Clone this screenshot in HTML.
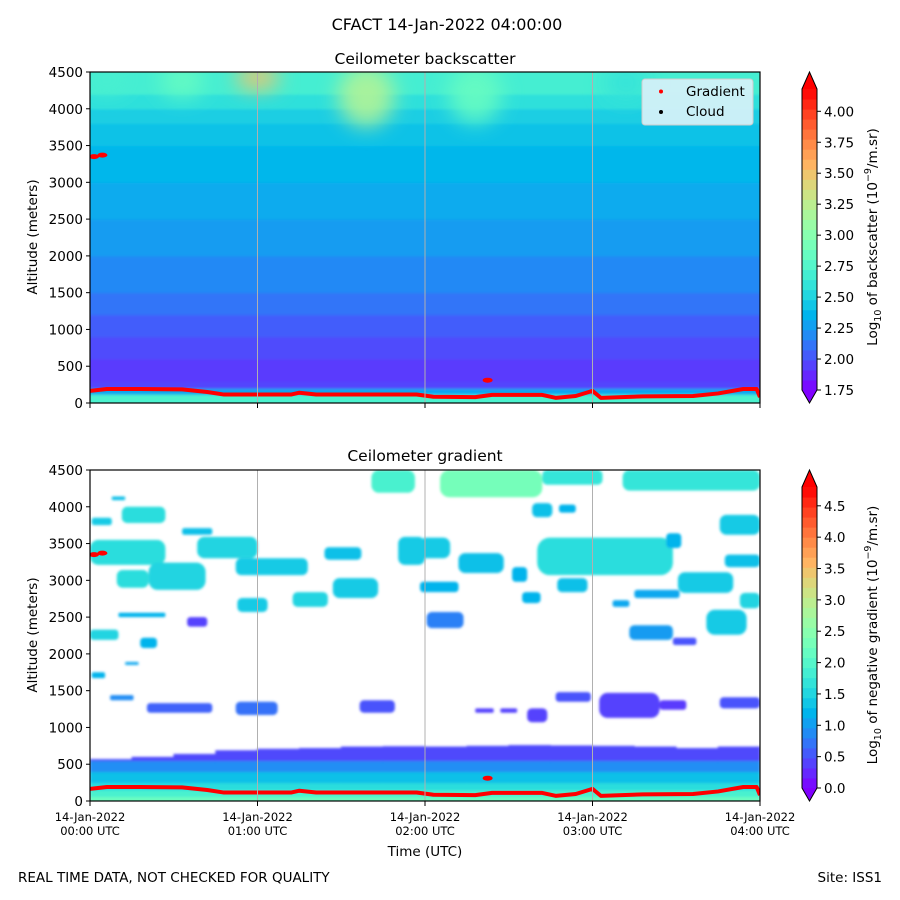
<!DOCTYPE html>
<html><head><meta charset="utf-8">
<style>
html,body{margin:0;padding:0;background:#fff;}
svg{display:block;font-family:"DejaVu Sans","Liberation Sans",sans-serif;}
</style></head>
<body>
<svg id="fig" width="900" height="900" viewBox="0 0 900 900" xmlns="http://www.w3.org/2000/svg">
<defs>
<filter id="blur1" x="-50%" y="-50%" width="200%" height="200%"><feGaussianBlur stdDeviation="10"/></filter>
<filter id="blur2" x="-20%" y="-20%" width="140%" height="140%"><feGaussianBlur stdDeviation="1.2"/></filter>
<clipPath id="clipTop"><rect x="90" y="72" width="670" height="331"/></clipPath>
<clipPath id="clipBot"><rect x="90" y="470" width="670" height="331"/></clipPath>
</defs>
<text x="447" y="30" font-size="16" text-anchor="middle">CFACT 14-Jan-2022 04:00:00</text>
<text x="425" y="64" font-size="15.5" text-anchor="middle">Ceilometer backscatter</text>
<text x="425" y="461" font-size="15.5" text-anchor="middle">Ceilometer gradient</text>
<g id="top"></g>
<g id="bot"></g>
<text x="425" y="856" font-size="13.5" text-anchor="middle">Time (UTC)</text>
<text x="18" y="882" font-size="13.5">REAL TIME DATA, NOT CHECKED FOR QUALITY</text>
<text x="882" y="882" font-size="13.5" text-anchor="end">Site: ISS1</text>
</svg>
<script>
// ---------- data ----------
const xTickLabels = ["00:00 UTC","01:00 UTC","02:00 UTC","03:00 UTC","04:00 UTC"];
const xTickHours = [0,1,2,3,4];
const yTicks = [0,500,1000,1500,2000,2500,3000,3500,4000,4500];
const bsTicks = [1.75,2.00,2.25,2.50,2.75,3.00,3.25,3.50,3.75,4.00];
const grTicks = [0.0,0.5,1.0,1.5,2.0,2.5,3.0,3.5,4.0,4.5];
// backscatter layered profile
const bsAltEdges = [0,120,200,300,600,900,1200,1500,2000,2500,3000,3500,3800,4000,4200,4500];
const bsProfile = [2.72,2.3,1.96,1.93,1.98,2.04,2.12,2.19,2.26,2.32,2.37,2.42,2.48,2.58,2.68];
// upper plumes: [hour, altBottom, altTop, value]
const plumes = [[1.0,4250,4600,3.5],[0.55,4150,4600,2.85],[1.65,3750,4600,3.2],[2.3,3800,4600,2.85],[3.2,4100,4600,2.6],[0.1,4200,4600,2.7]];
// gradient red line
const gradT = [0,0.1,0.3,0.55,0.7,0.8,1.0,1.2,1.25,1.35,1.6,1.95,2.05,2.3,2.4,2.7,2.78,2.9,3.0,3.05,3.3,3.6,3.75,3.9,3.98,4.0];
const gradAlt = [165,190,190,185,150,115,115,115,140,115,115,115,85,80,110,110,70,95,165,70,90,95,130,190,190,80];
const extraT = [0,0.05,2.35];
const extraAlt = [3350,3370,310];
// gradient bottom band: top altitude per column (0.25h)
const bandTop = [570,600,640,690,710,720,740,745,740,750,760,755,750,740,720,740];
const bandEdges = [0,60,150,250,400,550];
const bandVals = [2.2,1.9,1.6,1.3,0.9,0.45];
// gradient blobs: [t0,t1,alt0,alt1,value]
const blobs = [
[0.13,0.21,4090,4140,1.3],[0.19,0.45,3780,4000,1.6],[0.01,0.13,3750,3850,1.4],[0,0.45,3210,3550,1.6],
[0.55,0.73,3620,3710,1.3],[0.64,1.0,3300,3590,1.5],[0.87,1.3,3070,3300,1.4],[0.16,0.35,2900,3140,1.6],
[0.35,0.69,2870,3240,1.5],[1.4,1.62,3280,3450,1.3],[1.84,2.0,3210,3590,1.4],[0.88,1.06,2570,2760,1.4],
[1.21,1.42,2640,2840,1.5],[1.45,1.72,2760,3030,1.4],[0,0.17,2190,2330,1.5],[0.3,0.4,2080,2220,1.2],
[0.01,0.09,1670,1750,1.2],[0.12,0.26,1370,1440,0.9],[0.34,0.73,1200,1330,0.6],[0.87,1.12,1170,1350,0.7],
[1.61,1.82,1200,1370,0.5],[0.58,0.7,2370,2500,0.4],[0.21,0.29,1850,1890,1.1],[0.17,0.45,2500,2560,1.2],
[1.68,1.94,4190,4500,1.9],[2.09,2.7,4130,4500,2.3],[2.7,3.06,4300,4500,1.7],[3.18,4.0,4220,4500,1.7],
[2.64,2.76,3860,4050,1.3],[2.8,2.9,3920,4030,1.2],[1.97,2.15,3300,3580,1.4],[2.2,2.47,3100,3370,1.3],
[2.52,2.61,2980,3180,1.2],[2.67,3.48,3070,3580,1.6],[3.76,4.0,3620,3890,1.4],[3.44,3.53,3440,3640,1.2],
[3.79,4.0,3180,3350,1.3],[1.97,2.2,2840,2980,1.2],[2.79,2.97,2840,3030,1.3],[3.51,3.84,2830,3110,1.4],
[3.25,3.52,2760,2870,1.1],[3.88,4.0,2620,2830,1.5],[3.68,3.92,2260,2600,1.4],[3.12,3.22,2640,2730,1.1],
[2.58,2.69,2690,2840,1.2],[2.01,2.23,2350,2570,0.8],[3.22,3.48,2190,2390,1.0],[3.48,3.62,2120,2220,0.5],
[2.78,2.99,1350,1480,0.5],[2.61,2.73,1070,1260,0.4],[2.3,2.41,1200,1260,0.4],[2.45,2.55,1200,1260,0.4],
[3.04,3.4,1130,1470,0.4],[3.4,3.56,1240,1370,0.35],[3.76,4.0,1260,1410,0.5]
];
// ---------- helpers ----------
const NS="http://www.w3.org/2000/svg";
function mk(tag,attrs,parent){const e=document.createElementNS(NS,tag);for(const k in attrs)e.setAttribute(k,attrs[k]);parent.appendChild(e);return e;}
function rainbow(x){x=Math.max(0,Math.min(1,x));const r=Math.min(1,Math.abs(2*x-0.5)),g=Math.sin(Math.PI*x),b=Math.cos(Math.PI*x/2);
 return `rgb(${Math.round(r*255)},${Math.round(g*255)},${Math.round(b*255)})`;}
const X0=90,X1=760;
const xs=t=>X0+t/4*(X1-X0);
function ysFor(top){return a=>top+331-a/4500*331;}
const bsMin=1.75,bsMax=4.18,grMin=0,grMax=4.8;
const bsCol=v=>rainbow((v-bsMin)/(bsMax-bsMin));
const grCol=v=>rainbow((v-grMin)/(grMax-grMin));

function axes(g,top,showLabels){
  const ys=ysFor(top);
  for(let i=1;i<4;i++){const l=mk('line',{x1:xs(xTickHours[i]),x2:xs(xTickHours[i]),y1:top,y2:top+331,stroke:'#b0b0b0','stroke-width':1},g);
    }
  const fr=mk('rect',{x:X0,y:top,width:X1-X0,height:331,fill:'none',stroke:'#000','stroke-width':1.2},g);
  
  yTicks.forEach(v=>{const y=ys(v);mk('line',{x1:X0-4,x2:X0,y1:y,y2:y,stroke:'#000'},g);
    const t=mk('text',{x:X0-7,y:y+5,'font-size':13.5,'text-anchor':'end'},g);t.textContent=v;
    });
  xTickHours.forEach((h,i)=>{const x=xs(h);mk('line',{x1:x,x2:x,y1:top+331,y2:top+336,stroke:'#000'},g);
    if(showLabels){const t=mk('text',{x:x,y:top+351,'font-size':11.5,'text-anchor':'middle'},g);t.textContent='14-Jan-2022';
      
      const t2=mk('text',{x:x,y:top+365,'font-size':11.5,'text-anchor':'middle'},g);t2.textContent=xTickLabels[i];
      }});
  const yl=mk('text',{x:0,y:0,'font-size':13.5,'text-anchor':'middle',transform:`translate(37,${top+165}) rotate(-90)`},g);
  yl.textContent='Altitude (meters)';
}
function gradLine(g,top){
  const ys=ysFor(top);
  const pts=gradT.map((t,i)=>xs(t)+','+ys(gradAlt[i])).join(' ');
  const pl=mk('polyline',{points:pts,fill:'none',stroke:'#ff0000','stroke-width':4,'stroke-linejoin':'round'},g);
  
  extraT.forEach((t,i)=>{const c=mk('ellipse',{cx:xs(t)+4,cy:ys(extraAlt[i]),rx:5,ry:2.5,fill:'#ff0000'},g);
    });
}
function colorbar(g,top,ticks,vmin,vmax,col,label,fmt){
  const bx=802,bw=15,bTop=top+17,bBot=top+318;
  const vy=v=>bBot-(v-vmin)/(vmax-vmin)*(bBot-bTop);
  const n=30;
  for(let i=0;i<n;i++){const v0=vmin+(vmax-vmin)*i/n,v1=vmin+(vmax-vmin)*(i+1)/n;
    const r=mk('rect',{x:bx,y:vy(v1),width:bw,height:vy(v0)-vy(v1)+0.5,fill:col((v0+v1)/2)},g);
    }
  const up=mk('polygon',{points:`${bx},${bTop} ${bx+bw/2},${top} ${bx+bw},${bTop}`,fill:col(vmax+1)},g);
  
  const dn=mk('polygon',{points:`${bx},${bBot} ${bx+bw/2},${top+331} ${bx+bw},${bBot}`,fill:col(vmin-1)},g);
  
  mk('polygon',{points:`${bx},${bTop} ${bx+bw/2},${top} ${bx+bw},${bTop} ${bx+bw},${bBot} ${bx+bw/2},${top+331} ${bx},${bBot}`,fill:'none',stroke:'#000','stroke-width':1},g);
  ticks.forEach(v=>{const y=vy(v);mk('line',{x1:bx+bw,x2:bx+bw+4,y1:y,y2:y,stroke:'#000'},g);
    const t=mk('text',{x:bx+bw+7,y:y+5,'font-size':13.5},g);t.textContent=fmt(v);
    });
  const lt=mk('text',{x:0,y:0,'font-size':13.5,'text-anchor':'middle',transform:`translate(877,${top+165}) rotate(-90)`},g);
  lt.innerHTML=`Log<tspan font-size="9.5" dy="4">10</tspan><tspan dy="-4"> of ${label} (10</tspan><tspan font-size="9.5" dy="-6">−9</tspan><tspan dy="6">/m.sr)</tspan>`;
  
}
// ---------- top panel ----------
(function(){
  const g=document.getElementById('top'),top=72,ys=ysFor(top);
  const hm=mk('g',{'clip-path':'url(#clipTop)'},g);
  
  const inner=mk('g',{filter:'url(#blur2)'},hm);
  bsProfile.forEach((v,i)=>{const y1=ys(bsAltEdges[i+1]),y0=ys(bsAltEdges[i]);
    const r=mk('rect',{x:X0-5,y:y1-(i==bsProfile.length-1?5:0),width:X1-X0+10,height:y0-y1+(i==bsProfile.length-1?5:0)+(i==0?5:0.5),fill:bsCol(v)},inner);
    });
  const pg=mk('g',{filter:'url(#blur1)'},hm);
  plumes.forEach(p=>{const cx=xs(p[0]),y1=ys(p[2]),y0=ys(p[1]);
    const e=mk('ellipse',{cx:cx,cy:(y0+y1)/2,rx:Math.max(22,(y0-y1)*0.45),ry:(y0-y1)/2,fill:bsCol(p[3]),opacity:0.9},pg);
    });
  gradLine(hm,top);
  axes(g,top,false);
  const lg=mk('g',{},g);
  mk('rect',{x:642,y:79,width:111,height:46,rx:3,fill:'#d3f0f8',stroke:'#cccccc','fill-opacity':0.95},lg);
  mk('circle',{cx:661,cy:91.5,r:2,fill:'#ff0000'},lg);
  const t1=mk('text',{x:686,y:96,'font-size':13.5},lg);t1.textContent='Gradient';
  
  mk('circle',{cx:661,cy:112,r:2,fill:'#000'},lg);
  const t2=mk('text',{x:686,y:116,'font-size':13.5},lg);t2.textContent='Cloud';
  
  colorbar(g,top,bsTicks,bsMin,bsMax,bsCol,'backscatter',v=>v.toFixed(2));
})();
// ---------- bottom panel ----------
(function(){
  const g=document.getElementById('bot'),top=470,ys=ysFor(top);
  const hm=mk('g',{'clip-path':'url(#clipBot)'},g);
  
  const band=mk('g',{filter:'url(#blur2)'},hm);
  bandTop.forEach((topAlt,c)=>{const x0=xs(c*0.25),x1=xs((c+1)*0.25);
    bandVals.forEach((v,i)=>{const a0=bandEdges[i],a1=i==bandVals.length-1?topAlt:Math.min(bandEdges[i+1],topAlt);
      if(a1<=a0)return;const r=mk('rect',{x:x0-0.3,y:ys(a1),width:x1-x0+0.6,height:ys(a0)-ys(a1)+(i==0?3:0.5),fill:grCol(v)},band);
      });});
  const bl=mk('g',{filter:'url(#blur2)'},hm);
  blobs.forEach(b=>{const x0=xs(b[0]),x1=xs(b[1]),y0=ys(b[2]),y1=ys(b[3]);
    const r=mk('rect',{x:x0,y:y1,width:x1-x0,height:y0-y1,rx:Math.min((x1-x0)/4,(y0-y1)/3),fill:grCol(b[4])},bl);
    });
  gradLine(hm,top);
  axes(g,top,true);
  colorbar(g,top,grTicks,grMin,grMax,grCol,'negative gradient',v=>v.toFixed(1));
})();
</script>
</body></html>
